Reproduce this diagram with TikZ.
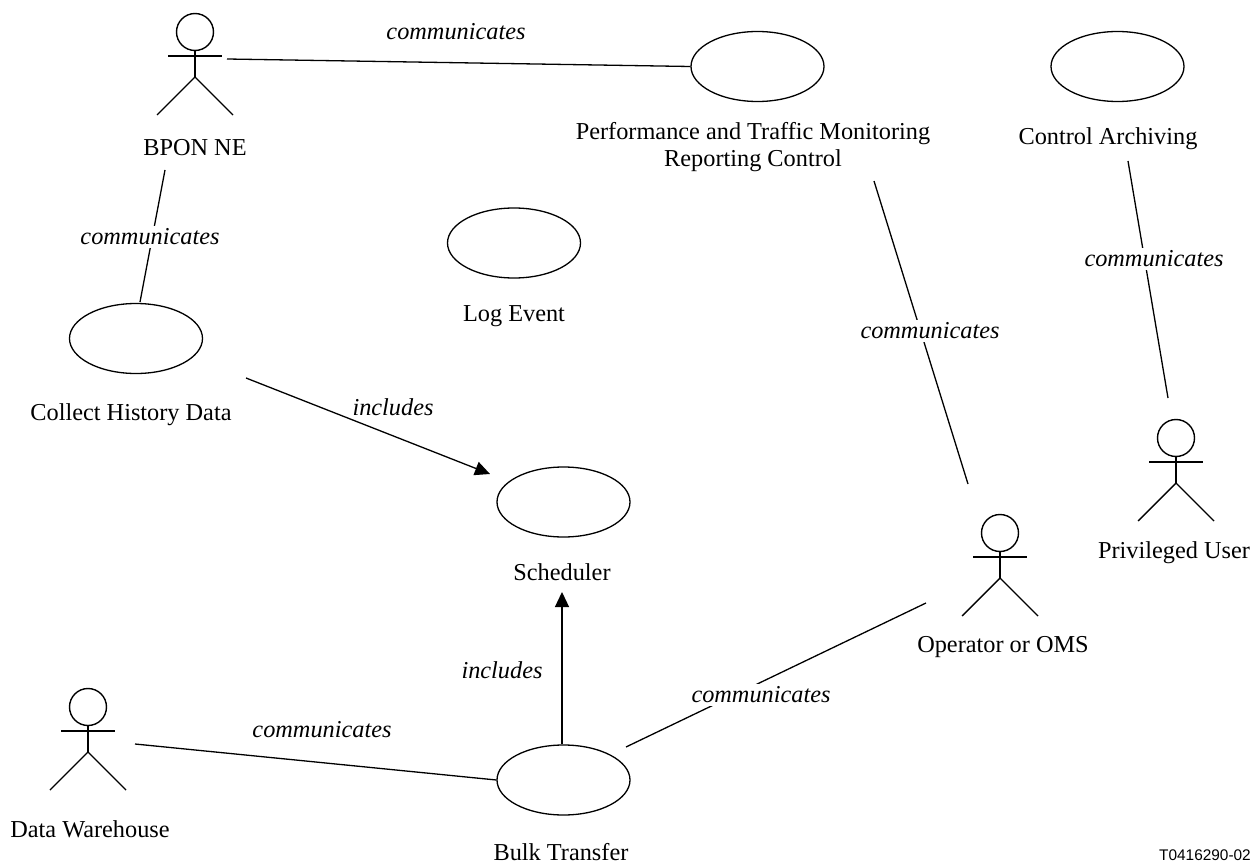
\documentclass[tikz,border=0pt]{standalone}
\usepackage{fontspec}
\setmainfont{Liberation Serif}
\newfontfamily\labelsans{Liberation Sans}
\usetikzlibrary{shapes.geometric,arrows.meta}
\tikzset{
  x=1pt,y=-1pt,
  usecase/.style={draw,ellipse,line width=1.3pt,minimum width=133pt,minimum height=70pt,inner sep=0pt},
  caption/.style={font=\fontsize{24.3}{27}\selectfont,align=center,inner sep=0pt},
  rel/.style={font=\fontsize{24.3}{27}\selectfont\itshape,inner sep=0pt},
  relbreak/.style={rel,fill=white,inner xsep=1pt,inner ysep=3pt},
  link/.style={line width=1.3pt},
  incl/.style={line width=1.3pt,-{Triangle[length=15pt,width=14pt]}},
  stick/.style={line width=1.4pt},
  pics/actor/.style={code={
    \draw[stick] (0,0) circle[radius=18.5];
    \draw[stick] (0,18.5) -- (0,45);
    \draw[stick] (-27,24) -- (27,24);
    \draw[stick] (-38,83) -- (0,45) -- (38,83);
  }}
}
\begin{document}
\begin{tikzpicture}
\useasboundingbox (0,0) rectangle (1251,864);
% actors
\pic at (195,32) {actor};
\pic at (1176,438) {actor};
\pic at (1000,533) {actor};
\pic at (88,707) {actor};
% use cases
\node[usecase] (perf) at (757.5,66.5) {};
\node[usecase] (ctrl) at (1117.5,66.5) {};
\node[usecase] (log) at (514,243) {};
\node[usecase] (coll) at (136,338.5) {};
\node[usecase] (sched) at (563.5,502) {};
\node[usecase] (bulk) at (563.5,780) {};
% captions
\node[caption] (tbpon) at (195,148) {BPON NE};
\node[caption] (tperf) at (753,147) {Performance and Traffic Monitoring\\Reporting Control};
\node[caption] (tctrl) at (1108,139) {Control Archiving};
\node[caption] (tlog) at (514,316) {Log Event};
\node[caption] (tcoll) at (131,415) {Collect History Data};
\node[caption] (tsched) at (562,572) {Scheduler};
\node[caption] (tpriv) at (1174,553) {Privileged User};
\node[caption] (toper) at (1003,647) {Operator or OMS};
\node[caption] (tdw) at (90,829) {Data Warehouse};
\node[caption] (tbulk) at (561,852) {Bulk Transfer};
\node[font=\labelsans\fontsize{15.4}{18}\selectfont,anchor=west,inner sep=0pt] (tid) at (1159,855) {T0416290-02};
% connector free ends
\coordinate (bponR) at (227,59);
\coordinate (bponB) at (165,170);
\coordinate (collT) at (140,302);
\coordinate (collE) at (246,378);
\coordinate (schedW) at (490,474);
\coordinate (schedS) at (562,592);
\coordinate (bulkN) at (562,744);
\coordinate (perfS) at (874,181);
\coordinate (operN) at (968,484);
\coordinate (ctrlS) at (1128,161);
\coordinate (privN) at (1168,398);
\coordinate (bulkE) at (626,747);
\coordinate (operW) at (926,603);
\coordinate (dwE) at (135,744);
% connectors
\draw[link] (bponR) -- (perf.west);
\draw[link] (bponB) -- (collT);
\draw[incl] (collE) -- (schedW);
\draw[incl] (bulkN) -- (schedS);
\draw[link] (perfS) -- (operN);
\draw[link] (ctrlS) -- (privN);
\draw[link] (bulkE) -- (operW);
\draw[link] (dwE) -- (bulk.west);
% connector labels
\node[rel] (r1) at (456,32) {communicates};
\node[relbreak] (r2) at (150,237) {communicates};
\node[rel] (r3) at (393,407) {includes};
\node[rel] (r4) at (502,670) {includes};
\node[relbreak] (r5) at (930,331) {communicates};
\node[relbreak] (r6) at (1154,259) {communicates};
\node[relbreak] (r7) at (761,695) {communicates};
\node[rel] (r8) at (322,730) {communicates};
\end{tikzpicture}
\end{document}
